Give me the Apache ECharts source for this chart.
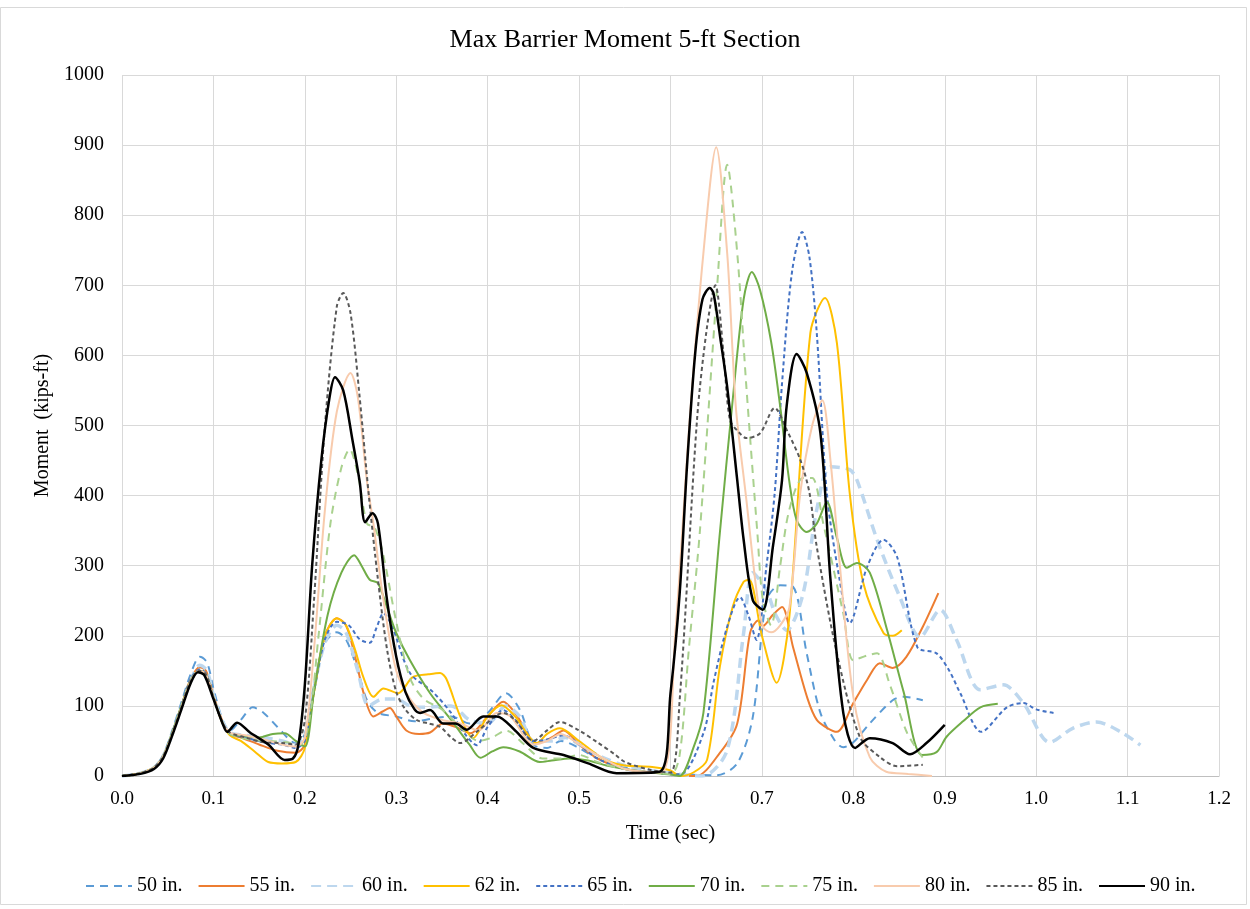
<!DOCTYPE html>
<html>
<head>
<meta charset="utf-8">
<title>Max Barrier Moment 5-ft Section</title>
<script src="https://cdn.jsdelivr.net/npm/echarts@6/dist/echarts.min.js"></script>
<style>
  html, body { margin: 0; padding: 0; background: #fff; }
  #chart { width: 1250px; height: 909px; }
</style>
</head>
<body>
<div id="chart"></div>
<script>
// Moment time histories, [time (sec), moment (kips-ft)] per barrier height
const s50 = [[0,0],[0.02,4],[0.035,12],[0.045,30],[0.055,65],[0.065,105],[0.075,145],[0.085,170],[0.093,162],[0.1,125],[0.11,80],[0.118,65],[0.13,80],[0.143,98],[0.155,90],[0.17,70],[0.19,47],[0.2,60],[0.21,130],[0.222,190],[0.235,205],[0.245,195],[0.258,150],[0.268,108],[0.28,90],[0.3,85],[0.32,78],[0.34,82],[0.36,85],[0.38,75],[0.4,90],[0.42,118],[0.435,95],[0.45,45],[0.465,40],[0.48,50],[0.5,40],[0.52,25],[0.55,12],[0.58,5],[0.62,2],[0.65,1],[0.673,18],[0.69,84],[0.705,251],[0.72,272],[0.734,270],[0.749,175],[0.764,90],[0.78,50],[0.789,41],[0.8,48],[0.818,75],[0.843,108],[0.855,113],[0.876,108]];
const s55 = [[0,0],[0.02,4],[0.035,12],[0.045,28],[0.055,62],[0.065,100],[0.075,138],[0.085,155],[0.092,150],[0.1,115],[0.11,78],[0.118,60],[0.13,55],[0.15,45],[0.17,36],[0.19,33],[0.2,45],[0.21,120],[0.222,200],[0.235,225],[0.245,215],[0.255,170],[0.265,115],[0.275,85],[0.285,92],[0.293,97],[0.3,85],[0.311,65],[0.325,60],[0.337,62],[0.351,75],[0.365,70],[0.381,61],[0.4,85],[0.417,106],[0.43,90],[0.454,47],[0.47,55],[0.483,65],[0.5,45],[0.52,25],[0.55,10],[0.6,3],[0.628,0],[0.654,33],[0.673,75],[0.687,204],[0.696,222],[0.701,214],[0.712,230],[0.722,241],[0.734,184],[0.75,110],[0.76,80],[0.772,68],[0.782,63],[0.8,104],[0.815,137],[0.829,161],[0.843,154],[0.858,170],[0.876,213],[0.893,261]];
const s60 = [[0,0],[0.02,4],[0.035,12],[0.045,28],[0.055,60],[0.065,98],[0.075,135],[0.085,158],[0.093,150],[0.1,115],[0.11,78],[0.118,62],[0.135,58],[0.155,55],[0.175,50],[0.19,45],[0.2,55],[0.21,125],[0.222,190],[0.235,215],[0.245,205],[0.258,150],[0.27,100],[0.285,110],[0.3,110],[0.315,100],[0.33,98],[0.36,100],[0.38,80],[0.4,75],[0.42,100],[0.435,85],[0.45,50],[0.47,50],[0.485,55],[0.5,45],[0.52,30],[0.55,15],[0.6,4],[0.635,0],[0.662,37],[0.68,204],[0.69,290],[0.705,265],[0.715,230],[0.727,208],[0.745,260],[0.76,380],[0.775,441],[0.796,437],[0.804,422],[0.826,337],[0.851,255],[0.873,198],[0.895,237],[0.913,194],[0.939,123],[0.964,130],[0.986,104],[1.015,48],[1.04,68],[1.066,77],[1.095,61],[1.114,44]];
const s62 = [[0,0],[0.02,4],[0.035,12],[0.045,28],[0.055,60],[0.065,98],[0.075,135],[0.085,150],[0.092,145],[0.1,112],[0.11,75],[0.118,58],[0.13,50],[0.145,35],[0.16,20],[0.175,18],[0.19,20],[0.2,40],[0.21,120],[0.222,200],[0.235,225],[0.245,215],[0.255,180],[0.264,141],[0.275,113],[0.286,125],[0.302,118],[0.318,141],[0.335,145],[0.348,147],[0.355,138],[0.37,85],[0.384,54],[0.4,85],[0.415,101],[0.43,85],[0.454,47],[0.465,60],[0.479,68],[0.5,50],[0.52,30],[0.534,20],[0.55,15],[0.58,13],[0.6,8],[0.61,0],[0.625,5],[0.64,23],[0.654,156],[0.668,241],[0.68,277],[0.686,280],[0.7,200],[0.716,133],[0.73,227],[0.753,632],[0.769,682],[0.782,618],[0.796,404],[0.811,275],[0.833,204],[0.843,200],[0.853,208]];
const s65 = [[0,0],[0.02,4],[0.035,12],[0.045,28],[0.055,62],[0.065,100],[0.075,138],[0.085,152],[0.092,146],[0.1,112],[0.11,76],[0.118,60],[0.135,55],[0.155,48],[0.175,45],[0.19,40],[0.2,50],[0.21,120],[0.222,195],[0.235,220],[0.248,215],[0.26,195],[0.271,190],[0.278,210],[0.286,232],[0.295,215],[0.315,147],[0.34,120],[0.36,90],[0.375,60],[0.388,44],[0.4,70],[0.417,94],[0.43,80],[0.45,50],[0.465,52],[0.483,58],[0.5,45],[0.52,25],[0.55,10],[0.58,5],[0.61,2],[0.636,61],[0.647,133],[0.662,213],[0.676,255],[0.685,230],[0.694,194],[0.705,300],[0.714,404],[0.722,560],[0.733,720],[0.744,776],[0.752,740],[0.76,632],[0.771,404],[0.785,280],[0.796,218],[0.815,298],[0.833,337],[0.848,312],[0.87,184],[0.891,175],[0.905,150],[0.917,118],[0.94,63],[0.968,98],[0.986,104],[1.0,95],[1.019,90]];
const s70 = [[0,0],[0.02,4],[0.035,12],[0.045,28],[0.055,62],[0.065,100],[0.075,136],[0.085,150],[0.092,145],[0.1,112],[0.11,76],[0.118,60],[0.135,57],[0.15,55],[0.165,60],[0.178,61],[0.19,50],[0.2,42],[0.21,120],[0.225,230],[0.24,290],[0.254,315],[0.262,300],[0.271,280],[0.28,275],[0.29,240],[0.3,204],[0.315,165],[0.337,118],[0.36,80],[0.38,45],[0.392,26],[0.405,35],[0.417,41],[0.435,35],[0.457,20],[0.47,22],[0.49,25],[0.51,22],[0.53,15],[0.56,8],[0.6,2],[0.61,0],[0.625,40],[0.636,90],[0.654,347],[0.668,536],[0.68,680],[0.689,719],[0.698,693],[0.71,620],[0.72,527],[0.73,420],[0.738,365],[0.749,348],[0.76,360],[0.771,391],[0.782,340],[0.793,297],[0.804,304],[0.818,290],[0.837,208],[0.855,120],[0.875,30],[0.891,34],[0.902,56],[0.92,78],[0.939,98],[0.958,103]];
const s75 = [[0,0],[0.02,4],[0.035,12],[0.045,28],[0.055,60],[0.065,98],[0.075,135],[0.085,148],[0.092,143],[0.1,112],[0.11,76],[0.118,60],[0.14,52],[0.16,50],[0.18,48],[0.195,45],[0.205,80],[0.215,200],[0.228,360],[0.24,440],[0.249,466],[0.258,430],[0.268,360],[0.276,355],[0.285,320],[0.3,220],[0.315,140],[0.33,110],[0.35,95],[0.37,70],[0.39,50],[0.405,55],[0.42,65],[0.44,45],[0.46,25],[0.48,25],[0.5,30],[0.52,20],[0.55,10],[0.6,3],[0.61,30],[0.62,180],[0.632,347],[0.651,698],[0.662,872],[0.673,746],[0.683,555],[0.695,347],[0.701,251],[0.71,215],[0.72,300],[0.73,380],[0.745,425],[0.755,425],[0.767,361],[0.789,232],[0.8,165],[0.815,172],[0.826,175],[0.84,130],[0.859,61],[0.876,26]];
const s80 = [[0,0],[0.02,4],[0.035,12],[0.045,28],[0.055,60],[0.065,98],[0.075,135],[0.085,150],[0.092,145],[0.1,112],[0.11,76],[0.118,62],[0.135,58],[0.155,52],[0.175,45],[0.19,42],[0.2,55],[0.21,180],[0.222,380],[0.235,520],[0.25,575],[0.258,540],[0.268,420],[0.275,360],[0.285,260],[0.3,150],[0.315,110],[0.33,90],[0.35,80],[0.37,75],[0.39,65],[0.41,90],[0.425,85],[0.45,45],[0.465,50],[0.48,60],[0.5,45],[0.52,30],[0.55,10],[0.59,5],[0.605,200],[0.621,508],[0.636,746],[0.65,897],[0.662,746],[0.668,603],[0.672,518],[0.683,394],[0.694,265],[0.701,213],[0.71,205],[0.72,215],[0.73,240],[0.742,404],[0.755,500],[0.766,536],[0.775,450],[0.785,304],[0.8,113],[0.818,27],[0.836,6],[0.86,3],[0.886,0]];
const s85 = [[0,0],[0.02,4],[0.035,12],[0.045,28],[0.055,60],[0.065,98],[0.075,135],[0.085,150],[0.092,145],[0.1,112],[0.11,76],[0.118,62],[0.135,55],[0.155,48],[0.175,47],[0.19,45],[0.2,80],[0.21,250],[0.222,500],[0.235,670],[0.242,689],[0.25,660],[0.26,540],[0.27,400],[0.28,280],[0.29,180],[0.3,120],[0.31,95],[0.322,80],[0.335,75],[0.348,70],[0.36,55],[0.37,47],[0.39,65],[0.417,90],[0.43,80],[0.45,50],[0.465,65],[0.479,77],[0.5,65],[0.52,48],[0.54,30],[0.55,20],[0.58,8],[0.6,5],[0.61,108],[0.629,508],[0.64,641],[0.649,700],[0.658,603],[0.665,508],[0.675,490],[0.683,482],[0.698,489],[0.714,525],[0.727,494],[0.742,451],[0.752,404],[0.76,327],[0.782,175],[0.807,56],[0.829,27],[0.848,14],[0.876,16]];
const s90 = [[0,0],[0.02,3],[0.035,10],[0.045,25],[0.055,58],[0.065,95],[0.075,132],[0.083,148],[0.09,144],[0.1,110],[0.11,75],[0.115,63],[0.126,76],[0.14,62],[0.16,45],[0.178,23],[0.187,25],[0.193,45],[0.2,130],[0.208,300],[0.218,450],[0.227,540],[0.233,569],[0.242,550],[0.252,480],[0.26,420],[0.266,362],[0.274,375],[0.28,360],[0.29,250],[0.3,170],[0.31,120],[0.32,95],[0.326,90],[0.337,94],[0.351,75],[0.365,75],[0.377,66],[0.395,85],[0.41,85],[0.43,65],[0.45,40],[0.483,30],[0.51,18],[0.541,4],[0.588,6],[0.6,118],[0.61,260],[0.618,441],[0.627,603],[0.635,680],[0.643,696],[0.647,689],[0.655,620],[0.662,555],[0.673,422],[0.68,337],[0.69,251],[0.701,237],[0.712,327],[0.722,422],[0.727,527],[0.738,602],[0.749,575],[0.764,489],[0.775,280],[0.789,90],[0.802,40],[0.818,54],[0.843,47],[0.862,31],[0.88,47],[0.9,73]];

const seriesNames = ['50 in.','55 in.','60 in.','62 in.','65 in.','70 in.','75 in.','80 in.','85 in.','90 in.'];
const seriesData = [s50, s55, s60, s62, s65, s70, s75, s80, s85, s90];

// Line look for each height: colour, width, dash pattern
const lineLooks = [
  { color: '#5B9BD5', width: 2,   type: [8, 6] },
  { color: '#ED7D31', width: 2,   type: 'solid' },
  { color: '#BDD7EE', width: 3.5, type: [10, 6] },
  { color: '#FFC000', width: 2,   type: 'solid' },
  { color: '#4472C4', width: 2,   type: [4, 3] },
  { color: '#70AD47', width: 2,   type: 'solid' },
  { color: '#A9D18E', width: 2,   type: [8, 6] },
  { color: '#F8CBAD', width: 2,   type: 'solid' },
  { color: '#595959', width: 2,   type: [4, 3] },
  { color: '#000000', width: 2.5, type: 'solid' }
];

const FONT = '"Liberation Serif", "Times New Roman", serif';

const chart = echarts.init(document.getElementById('chart'), null, { renderer: 'canvas' });

chart.setOption({
  backgroundColor: '#ffffff',
  animation: false,
  title: {
    text: 'Max Barrier Moment 5-ft Section',
    left: 'center',
    top: 22,
    textStyle: { fontFamily: FONT, fontSize: 26, fontWeight: 'normal', color: '#000' }
  },
  graphic: [{
    type: 'rect',
    shape: { x: 0.5, y: 7.5, width: 1246, height: 897 },
    style: { fill: 'none', stroke: '#D9D9D9', lineWidth: 1 },
    silent: true
  }],
  grid: { left: 122, right: 31, top: 75, bottom: 133, containLabel: false },
  legend: {
    bottom: 8,
    left: 80,
    itemWidth: 46,
    itemHeight: 12,
    itemGap: 15,
    itemStyle: { opacity: 0 },
    textStyle: { fontFamily: FONT, fontSize: 20, color: '#000' },
    data: seriesNames
  },
  xAxis: {
    type: 'value',
    min: 0,
    max: 1.2,
    interval: 0.1,
    name: 'Time (sec)',
    nameLocation: 'middle',
    nameGap: 47,
    nameTextStyle: { fontFamily: FONT, fontSize: 21, color: '#000' },
    axisLine: { show: true, lineStyle: { color: '#BFBFBF' } },
    axisTick: { show: false },
    axisLabel: {
      fontFamily: FONT, fontSize: 19, color: '#000', margin: 14,
      formatter: v => v.toFixed(1)
    },
    splitLine: { show: true, lineStyle: { color: '#D9D9D9' } }
  },
  yAxis: {
    type: 'value',
    min: 0,
    max: 1000,
    interval: 100,
    name: 'Moment  (kips-ft)',
    nameLocation: 'middle',
    nameGap: 66,
    nameTextStyle: { fontFamily: FONT, fontSize: 20, color: '#000' },
    axisLine: { show: false },
    axisTick: { show: false },
    axisLabel: {
      fontFamily: FONT, fontSize: 20, color: '#000', margin: 18,
      formatter: v => String(v)
    },
    splitLine: { show: true, lineStyle: { color: '#D9D9D9' } }
  },
  series: seriesNames.map((name, i) => ({
    name: name,
    type: 'line',
    data: seriesData[i],
    showSymbol: false,
    symbol: 'none',
    smooth: 0.3,
    color: lineLooks[i].color,
    lineStyle: {
      color: lineLooks[i].color,
      width: lineLooks[i].width,
      type: lineLooks[i].type
    },
    z: 2 + i
  }))
});
</script>
</body>
</html>
